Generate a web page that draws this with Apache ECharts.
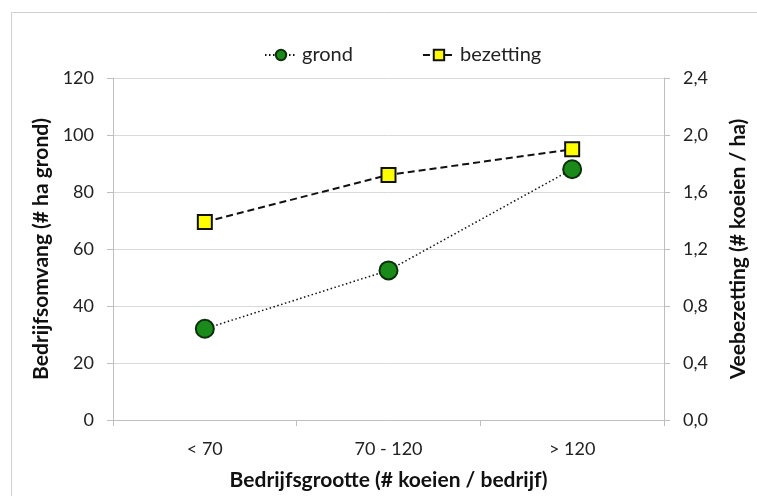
<!DOCTYPE html>
<html>
<head>
<meta charset="utf-8">
<script src="https://cdn.jsdelivr.net/npm/echarts@6/dist/echarts.min.js"></script>
<style>html,body{margin:0;padding:0;background:#fff}#c{width:757px;height:496px}</style>
</head>
<body>
<div id="c"></div>
<script>
const categories = ['< 70', '70 - 120', '> 120'];
const grond = [32, 52.5, 88];
const bezetting = [1.39, 1.72, 1.90];
const leftTicks = [0, 20, 40, 60, 80, 100, 120];
const rightTicks = [0, 0.4, 0.8, 1.2, 1.6, 2.0, 2.4];

const FONT = 'Lato';
const chart = echarts.init(document.getElementById('c'));
chart.setOption({
  animation: false,
  backgroundColor: '#fff',
  textStyle: { fontFamily: FONT },
  graphic: [{
    type: 'rect', z: -10, silent: true,
    shape: { x: 11.5, y: 12.5, width: 800, height: 600 },
    style: { fill: 'none', stroke: '#d0d0d0', lineWidth: 1 }
  }],
  legend: {
    top: 40, left: 259, itemGap: 69, itemWidth: 32, itemHeight: 13,
    textStyle: { fontFamily: FONT, fontSize: 20, color: '#222' },
    data: [
      { name: 'grond' },
      { name: 'bezetting' }
    ]
  },
  grid: { left: 113, right: 83, top: 78, bottom: 73 },
  xAxis: {
    type: 'category', data: categories, boundaryGap: true,
    axisLine: { lineStyle: { color: '#bfbfbf', width: 1 } },
    axisTick: { show: true, length: 6, lineStyle: { color: '#bfbfbf' } },
    axisLabel: { fontFamily: FONT, fontSize: 18, color: '#222', margin: 20 },
    name: 'Bedrijfsgrootte (# koeien / bedrijf)', nameLocation: 'middle', nameGap: 50,
    nameTextStyle: { fontFamily: FONT, fontSize: 21, fontWeight: 'bold', color: '#111' }
  },
  yAxis: [{
    type: 'value', min: 0, max: 120, interval: 20,
    axisLine: { show: true, lineStyle: { color: '#bfbfbf' } },
    axisTick: { show: true, inside: false, length: 6, lineStyle: { color: '#bfbfbf' } },
    splitLine: { lineStyle: { color: '#d9d9d9', width: 1 } },
    axisLabel: { fontFamily: FONT, fontSize: 18, color: '#222', margin: 19,
      formatter: v => leftTicks.includes(v) ? String(v) : '' },
    name: 'Bedrijfsomvang (# ha grond)', nameLocation: 'middle', nameGap: 61, nameRotate: 90,
    nameTextStyle: { fontFamily: FONT, fontSize: 21, fontWeight: 'bold', color: '#111' }
  }, {
    type: 'value', min: 0, max: 2.4, interval: 0.4, position: 'right',
    axisLine: { show: true, lineStyle: { color: '#bfbfbf' } },
    axisTick: { show: true, inside: false, length: 6, lineStyle: { color: '#bfbfbf' } },
    splitLine: { show: false },
    axisLabel: { fontFamily: FONT, fontSize: 18, color: '#222', margin: 19,
      formatter: v => {
        const t = rightTicks.find(r => Math.abs(r - v) < 1e-6);
        return t === undefined ? '' : t.toFixed(1).replace('.', ',');
      } },
    name: 'Veebezetting (# koeien / ha)', nameLocation: 'middle', nameGap: 64, nameRotate: 90,
    nameTextStyle: { fontFamily: FONT, fontSize: 21, fontWeight: 'bold', color: '#111' }
  }],
  series: [{
    name: 'grond', type: 'line', yAxisIndex: 0, data: grond,
    symbol: 'circle', symbolSize: 18,
    itemStyle: { color: '#1a8a1a', borderColor: '#0b300b', borderWidth: 2 },
    lineStyle: { color: '#111', width: 1.5, type: [1.5, 2.5] }
  }, {
    name: 'bezetting', type: 'line', yAxisIndex: 1, data: bezetting,
    symbol: 'rect', symbolSize: 14,
    itemStyle: { color: '#ffff00', borderColor: '#111', borderWidth: 2 },
    lineStyle: { color: '#111', width: 2, type: [7, 4] }
  }]
});
</script>
</body>
</html>
